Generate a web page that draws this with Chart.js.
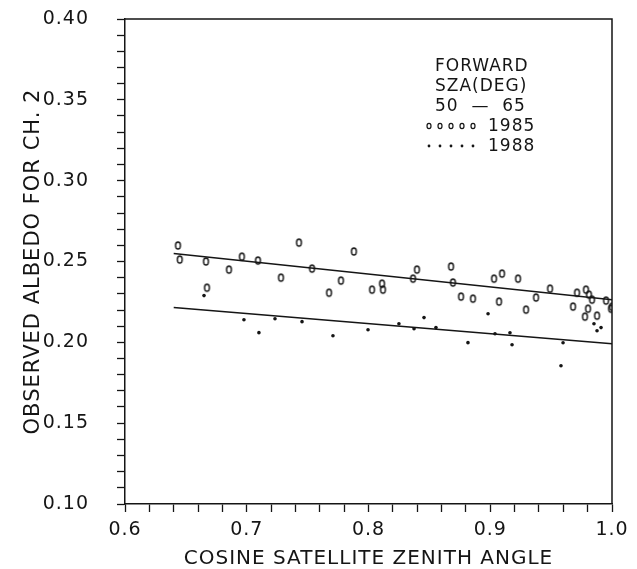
<!DOCTYPE html>
<html>
<head>
<meta charset="utf-8">
<script src="https://cdn.jsdelivr.net/npm/chart.js@4/dist/chart.umd.min.js"></script>
<style>
    html, body { margin: 0; padding: 0; background: #fff; }
    #wrap { width: 637px; height: 569px; }
</style>
</head>
<body>
<div id="wrap"><canvas id="chart" width="637" height="569"></canvas></div>
<script>
// 1985 observations (open symbols)
const x1985 = [0.6435, 0.645, 0.6665, 0.6673, 0.6854, 0.696, 0.7092, 0.7281, 0.7429, 0.7536,
    0.7676, 0.7774, 0.788, 0.8029, 0.8111, 0.8119, 0.8366, 0.8398, 0.8678, 0.8694,
    0.876, 0.8858, 0.9031, 0.9072, 0.9097, 0.9228, 0.9294, 0.9376, 0.9491, 0.968,
    0.9713, 0.9778, 0.9786, 0.9803, 0.9811, 0.9836, 0.9877, 0.9951, 0.9992, 1.0];
const y1985 = [0.2599, 0.2512, 0.250, 0.2338, 0.245, 0.253, 0.2506, 0.240, 0.2617, 0.2456,
    0.2307, 0.2382, 0.2562, 0.2326, 0.2363, 0.2326, 0.2394, 0.245, 0.2469, 0.237,
    0.2283, 0.227, 0.2394, 0.2252, 0.2425, 0.2394, 0.2202, 0.2277, 0.2332, 0.2221,
    0.2307, 0.2159, 0.2326, 0.2208, 0.2295, 0.2264, 0.2165, 0.2258, 0.2208, 0.222];

// 1988 observations (dots)
const x1988 = [0.6649, 0.6977, 0.710, 0.7232, 0.7454, 0.7708, 0.7996, 0.825, 0.8374, 0.8456,
    0.8554, 0.8817, 0.8982, 0.9039, 0.9162, 0.9179, 0.9581, 0.9598, 0.9852, 0.9877, 0.991];
const y1988 = [0.2289, 0.214, 0.206, 0.2146, 0.2128, 0.2041, 0.2078, 0.2115, 0.2084, 0.2153,
    0.2091, 0.1998, 0.2177, 0.2053, 0.2059, 0.1985, 0.1855, 0.1997, 0.2115, 0.2072, 0.2091];

// fitted lines, end points
const fitX = [0.64, 1.0];
const fit1985 = [0.255, 0.2264];
const fit1988 = [0.2215, 0.1991];

const xTickLabels = ["0.6", "0.7", "0.8", "0.9", "1.0"];
const yTickLabels = ["0.10", "0.15", "0.20", "0.25", "0.30", "0.35", "0.40"];
const legendLines = ["FORWARD", "SZA(DEG)", "50  \u2014  65"];
const seriesNames = ["1985", "1988"];

const INK = "#151515";
const FONT = "'DejaVu Sans', sans-serif";

function pares(xs, ys) {
    return xs.map((x, i) => ({ x, y: ys[i] }));
}

function simboloOval() {
    const c = document.createElement("canvas");
    c.width = 9;
    c.height = 11;
    const ctx = c.getContext("2d");
    ctx.strokeStyle = INK;
    ctx.lineWidth = 1.4;
    ctx.beginPath();
    ctx.ellipse(4.5, 5.5, 2.4, 3.5, 0, 0, Math.PI * 2);
    ctx.stroke();
    return c;
}

// the plotter font is spaced wider than DejaVu
const espacamento = {
    id: "espacamento",
    beforeDraw(chart) {
        chart.ctx.letterSpacing = "1px";
    }
};

const moldura = {
    id: "moldura",
    afterDraw(chart) {
        const { ctx, chartArea: a } = chart;
        ctx.save();
        ctx.strokeStyle = INK;
        ctx.lineWidth = 1.5;
        ctx.beginPath();
        ctx.moveTo(a.left, a.top);
        ctx.lineTo(a.right, a.top);
        ctx.lineTo(a.right, a.bottom);
        ctx.stroke();
        ctx.restore();
    }
};

const legenda = {
    id: "legenda",
    afterDraw(chart) {
        const ctx = chart.ctx;
        ctx.save();
        ctx.fillStyle = INK;
        ctx.strokeStyle = INK;
        ctx.font = "17px " + FONT;
        ctx.textBaseline = "middle";
        ctx.textAlign = "left";
        legendLines.forEach((t, i) => ctx.fillText(t, 435, 67 + i * 20));
        const xs = [429, 440, 451, 462, 473];
        xs.forEach(x => {
            ctx.lineWidth = 1.2;
            ctx.beginPath();
            ctx.ellipse(x, 126, 2, 2.6, 0, 0, Math.PI * 2);
            ctx.stroke();
            ctx.beginPath();
            ctx.arc(x, 146, 1.4, 0, Math.PI * 2);
            ctx.fill();
        });
        ctx.fillText(seriesNames[0], 488, 127);
        ctx.fillText(seriesNames[1], 488, 147);
        ctx.restore();
    }
};

const ctx = document.getElementById("chart");
new Chart(ctx, {
    data: {
        datasets: [
            {
                type: "scatter",
                label: seriesNames[0],
                data: pares(x1985, y1985),
                pointStyle: simboloOval(),
                pointRadius: 4
            },
            {
                type: "scatter",
                label: seriesNames[1],
                data: pares(x1988, y1988),
                pointStyle: "circle",
                pointRadius: 1.8,
                backgroundColor: INK,
                borderColor: INK,
                borderWidth: 0
            },
            {
                type: "line",
                label: "fit 1985",
                data: pares(fitX, fit1985),
                borderColor: INK,
                borderWidth: 1.5,
                pointRadius: 0,
                fill: false
            },
            {
                type: "line",
                label: "fit 1988",
                data: pares(fitX, fit1988),
                borderColor: INK,
                borderWidth: 1.5,
                pointRadius: 0,
                fill: false
            }
        ]
    },
    options: {
        responsive: false,
        animation: false,
        devicePixelRatio: 1,
        layout: { padding: { top: 19, right: 25, left: 0, bottom: 0 } },
        plugins: {
            legend: { display: false },
            tooltip: { enabled: false }
        },
        scales: {
            x: {
                type: "linear",
                min: 0.6,
                max: 1.0,
                afterFit(scale) { scale.height = 65; },
                ticks: {
                    stepSize: 0.02,
                    autoSkip: false,
                    maxRotation: 0,
                    padding: 7,
                    color: INK,
                    font: { family: FONT, size: 19 },
                    callback(v) {
                        const k = Math.round(v * 100);
                        return k % 10 === 0 ? xTickLabels[(k - 60) / 10] : "";
                    }
                },
                grid: {
                    drawOnChartArea: false,
                    drawTicks: true,
                    tickLength: 8,
                    tickColor: INK,
                    tickWidth: 1.3
                },
                border: { display: true, color: INK, width: 1.5 },
                title: {
                    display: true,
                    text: "COSINE SATELLITE ZENITH ANGLE",
                    color: INK,
                    font: { family: FONT, size: 20, lineHeight: 1 },
                    padding: { top: 0, bottom: 0 }
                }
            },
            y: {
                type: "linear",
                min: 0.10,
                max: 0.40,
                afterFit(scale) {
                    scale.width = 125;
                    // label padding is large, keep it from pushing the plot down
                    scale.paddingTop = 10;
                    scale.paddingBottom = 10;
                },
                ticks: {
                    stepSize: 0.01,
                    autoSkip: false,
                    padding: 28,
                    color: INK,
                    font: { family: FONT, size: 19 },
                    callback(v) {
                        const k = Math.round(v * 100);
                        return k % 5 === 0 ? yTickLabels[(k - 10) / 5] : "";
                    }
                },
                grid: {
                    drawOnChartArea: false,
                    drawTicks: true,
                    tickLength: 8,
                    tickColor: INK,
                    tickWidth: 1.3
                },
                border: { display: true, color: INK, width: 1.5 },
                title: {
                    display: true,
                    text: "OBSERVED ALBEDO FOR CH. 2",
                    color: INK,
                    font: { family: FONT, size: 21 },
                    padding: { top: 21 }
                }
            }
        }
    },
    plugins: [espacamento, moldura, legenda]
});
</script>
</body>
</html>
